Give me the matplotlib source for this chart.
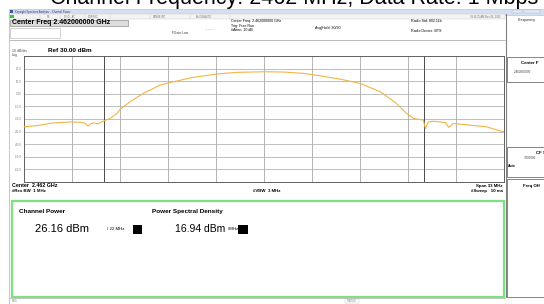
import matplotlib
matplotlib.use('Agg')
import matplotlib.pyplot as plt
from matplotlib.patches import Rectangle

W, H = 544, 304

# trace: offset from centre (MHz) and level (dBm)
freq_offset_mhz = [-16.5, -15.9, -15.4, -14.9, -14.5, -13.9, -13.3, -12.65, -12.3, -12.1,
                   -11.9, -11.7, -11.4, -11.16, -10.6, -10.1, -9.9, -9.2, -8.3, -7.15,
                   -6.2, -4.9, -3.25, -1.9, 0.0, 1.3, 2.7, 3.85, 5.2, 6.6,
                   8.0, 9.1, 9.8, 10.3, 10.7, 10.95, 11.1, 11.3, 11.7, 12.1,
                   12.5, 12.7, 13.0, 13.6, 14.2, 15.3, 16.3, 16.5]
level_dbm = [-26.2, -25.6, -24.9, -23.8, -23.1, -22.8, -22.3, -22.6, -23.4, -25.7,
             -23.6, -23.1, -23.8, -22.3, -19.6, -15.6, -12.4, -6.3, 0.3, 6.9,
             9.6, 13.0, 15.7, 17.0, 17.5, 17.3, 16.2, 14.3, 11.7, 8.3,
             1.6, -7.6, -15.6, -19.6, -20.4, -20.9, -27.5, -22.3, -21.8, -22.3,
             -23.0, -26.7, -23.6, -24.2, -24.9, -26.2, -29.7, -30.0]

y_ticks = [20, 10, 0, -10, -20, -30, -40, -50, -60]
y_tick_labels = ['20.0', '10.0', '0.00', '-10.0', '-20.0', '-30.0', '-40.0', '-50.0', '-60.0']
channel_edges_mhz = [-11, 11]
span_mhz = 33
ref_level = 30
db_per_div = 10

plt.rcParams['font.family'] = ['Liberation Sans', 'DejaVu Sans']

fig = plt.figure(figsize=(W / 100, H / 100), dpi=100)
fig.patch.set_facecolor('white')


def px_text(x, y, s, size=3, weight='normal', color='black', ha='left', va='center', z=5, **kw):
    return fig.text(x / W, 1 - y / H, s, fontsize=size, fontweight=weight, color=color,
                    ha=ha, va=va, zorder=z, **kw)


def px_rect(x, y, w, h, fc='none', ec='none', lw=0.8, z=2):
    fig.add_artist(Rectangle((x / W, 1 - (y + h) / H), w / W, h / H, transform=fig.transFigure,
                             facecolor=fc, edgecolor=ec, linewidth=lw, zorder=z))


def px_line(x0, y0, x1, y1, color='#909090', lw=0.7, z=2):
    fig.add_artist(plt.Line2D([x0 / W, x1 / W], [1 - y0 / H, 1 - y1 / H],
                              transform=fig.transFigure, color=color, lw=lw, zorder=z))


# slide title, cut off at the top
px_text(294, 4, 'Channel Frequency: 2462 MHz, Data Rate: 1 Mbps', size=15.5, ha='center', va='baseline', z=0)

# window title bar
px_rect(9, 9, 535, 5.5, fc='#d2e0f2', ec='#a8bcd8', lw=0.4)
px_rect(10, 10, 3, 3, fc='#3a5a9a', z=3)
px_text(15, 11.8, 'Keysight Spectrum Analyzer - Channel Power', size=2, color='#2a3a5a')
px_rect(512, 9.5, 10, 3.5, fc='#e4ecf6', ec='#a0b0c8', lw=0.3, z=3)
px_rect(524, 9.5, 16, 3.5, fc='#e4ecf6', ec='#a0b0c8', lw=0.3, z=3)

# status strip
px_rect(9, 14.5, 496, 4, fc='#f4f4f4', ec='#c8c8c8', lw=0.3)
px_rect(10, 14.5, 4, 3.5, fc='#3cc43c', z=3)
for xs in [40, 60, 85, 110, 150, 190, 230]:
    px_line(xs, 14.5, xs, 18.5, color='#c8c8c8', lw=0.3)
for x, s in [(47, 'RL'), (64, '50 \u03a9   AC'), (88, 'CORREC'), (153, 'SENSE:INT'), (196, 'ALIGN AUTO')]:
    px_text(x, 16.5, s, size=1.8, color='#707070')
px_text(500, 16.2, '09:26:25 AM Nov 06, 2015', size=1.8, color='#707070', ha='right')

# header
px_rect(10, 20, 118, 6, fc='#dcdcdc', ec='#909090', lw=0.5)
px_text(12, 23, 'Center Freq 2.462000000 GHz', size=5, weight='bold')
px_rect(10, 28, 50, 10, fc='white', ec='#b0b0b0', lw=0.4)
px_text(172, 32.5, 'IFGain:Low', size=2.4, color='#404040')
px_text(206, 29, '- - - -', size=2.4, color='#404040')
px_text(231, 21, 'Center Freq: 2.462000000 GHz', size=2.6)
px_text(231, 25.5, 'Trig: Free Run', size=2.6)
px_text(231, 30, '#Atten: 10 dB', size=2.6)
px_text(315, 27.5, 'Avg|Hold: 30/30', size=2.6)
px_text(411, 21, 'Radio Std: 802.11b', size=2.6)
px_text(411, 30.5, 'Radio Device: BTS', size=2.6)
px_line(10, 40, 505, 40, color='#a0a0a0', lw=0.5)

px_text(12, 51, '10 dB/div', size=2.6, color='#505050')
px_text(12, 55, 'Log', size=2.6, color='#505050')
px_text(48, 50.5, 'Ref 30.00 dBm', size=4.6, weight='bold')

# trace window
ax = fig.add_axes([24 / W, 1 - 182 / H, 480 / W, 126 / H])
ax.set_xlim(-span_mhz / 2, span_mhz / 2)
ax.set_ylim(ref_level - 10 * db_per_div, ref_level)
for i in range(1, 10):
    ax.axvline(-span_mhz / 2 + i * span_mhz / 10, color='#a8a8a8', lw=0.6, zorder=1)
    ax.axhline(ref_level - i * db_per_div, color='#b4b4b4', lw=0.6, zorder=1)
for edge in channel_edges_mhz:
    ax.axvline(edge, color='#4a4a4a', lw=0.7, zorder=1)
ax.plot(freq_offset_mhz, level_dbm, color='#f2b445', lw=0.8, zorder=3)
ax.set_xticks([])
ax.set_yticks(y_ticks)
ax.set_yticklabels(y_tick_labels, fontsize=2.2, color='#808080')
ax.tick_params(axis='y', length=0, pad=1.5)
for sp in ax.spines.values():
    sp.set_color('#606060')
    sp.set_linewidth(0.7)

px_text(12, 185.5, 'Center  2.462 GHz', size=3.8, weight='bold')
px_text(12, 190.5, '#Res BW  1 MHz', size=3.2, weight='bold')
px_text(253, 191, '#VBW  3 MHz', size=3.2, weight='bold')
px_text(503, 186, 'Span 33 MHz', size=3.2, weight='bold', ha='right')
px_text(503, 191, '#Sweep   10 ms', size=3.2, weight='bold', ha='right')

# result panel
px_rect(12, 200.5, 492, 96, fc='white', ec='#7fe07f', lw=1.6)
px_text(19, 211.5, 'Channel Power', size=4.6, weight='bold')
px_text(35, 229, '26.16 dBm', size=8)
px_text(107, 229.5, '/ 22 MHz', size=3.2)
px_rect(133, 225, 9, 9, fc='black', z=3)
px_text(152, 211.5, 'Power Spectral Density', size=4.6, weight='bold')
px_text(175, 229, '16.94 dBm', size=7.5)
px_text(227.5, 229.5, '/MHz', size=3.2)
px_rect(238, 225, 10, 9, fc='black', z=3)

# message bar
px_line(9, 297.5, 505, 297.5, color='#b0b0b0', lw=0.5)
px_text(12, 300.5, 'MSG', size=1.8, color='#808080')
px_rect(345, 298.5, 14, 4, fc='white', ec='#c0c0c0', lw=0.3)
px_text(352, 300.5, 'STATUS', size=1.8, color='#808080', ha='center')
px_line(9, 14, 9, 304, color='#b0b0b0', lw=0.5)

# soft key panel
px_line(505.5, 14, 505.5, 297, color='#808080', lw=0.8)
px_text(518, 20, 'Frequency', size=2.8, color='#303030')
px_rect(507, 57, 40, 25, fc='white', ec='#707070', lw=0.6)
px_text(521, 63, 'Center F', size=3.2, weight='bold')
px_text(514, 72, '2.462000000', size=2.2, color='#404040')
px_rect(507, 147, 40, 30, fc='white', ec='#707070', lw=0.6)
px_text(536, 152.5, 'CF S', size=3.2, weight='bold')
px_text(524, 158, '3.000000', size=2.2, color='#404040')
px_text(508, 166, 'Auto', size=2.4, weight='bold')
px_rect(507, 179, 40, 118, fc='white', ec='#707070', lw=0.6)
px_text(523, 186, 'Freq Off', size=3.2, weight='bold')

fig.savefig('out.png', dpi=100)
